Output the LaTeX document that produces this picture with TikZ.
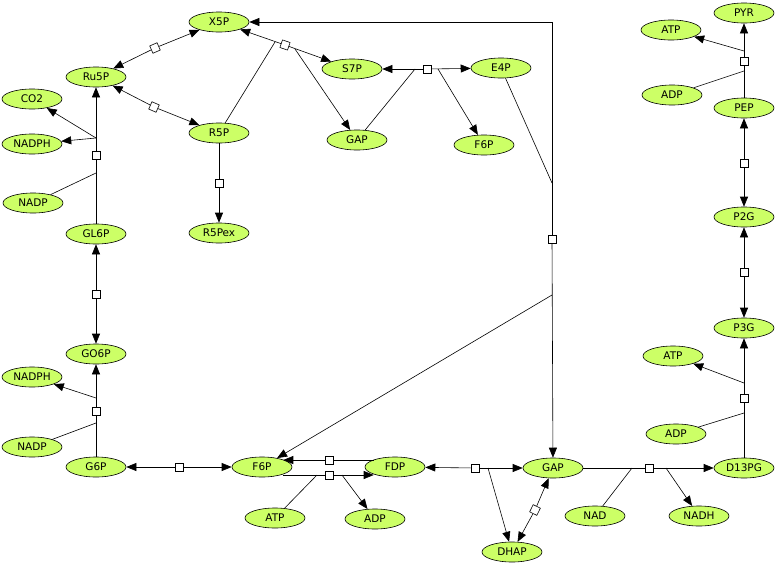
\documentclass[tikz,border=0pt]{standalone}
\usepackage{fontspec}
\setmainfont{DejaVu Sans}
\usetikzlibrary{arrows.meta,shapes.geometric}
\definecolor{metfill}{RGB}{204,255,102}

\begin{document}
\begin{tikzpicture}[
x=1pt,
y=-1pt,
line width=0.6pt,
met/.style={
    draw,
    ellipse,
    fill=metfill,
    minimum width=60pt,
    minimum height=20pt,
    inner sep=0pt,
    font=\fontsize{10.5}{12}\selectfont
},
rxn/.style={
    draw,
    fill=white,
    minimum size=8pt,
    inner sep=0pt
},
>={Triangle[length=10pt,width=8pt]}
]

\useasboundingbox (0,0) rectangle (777,565);

\node (X5P) [met] at (219,22) {X5P};
\node (Ru5P) [met] at (96,77) {Ru5P};
\node (CO2) [met] at (32,99) {CO2};
\node (NADPH1) [met] at (32,144) {NADPH};
\node (NADP1) [met] at (33,203) {NADP};
\node (R5P) [met] at (219,133) {R5P};
\node (R5Pex) [met] at (219,233) {R5Pex};
\node (GL6P) [met] at (96,234) {GL6P};
\node (GO6P) [met] at (96,354) {GO6P};
\node (NADPH2) [met] at (32,377) {NADPH};
\node (NADP2) [met] at (32,447) {NADP};
\node (G6P) [met] at (96,467) {G6P};
\node (F6P) [met] at (262,467) {F6P};
\node (FDP) [met] at (395,467) {FDP};
\node (ATP1) [met] at (275,518) {ATP};
\node (ADP1) [met] at (375,519) {ADP};
\node (GAP) [met] at (553,468) {GAP};
\node (DHAP) [met] at (512,552) {DHAP};
\node (NAD) [met] at (595,516) {NAD};
\node (NADH) [met] at (699,516) {NADH};
\node (D13PG) [met] at (744,468) {D13PG};
\node (ADP2) [met] at (676,434) {ADP};
\node (ATP2) [met] at (673,356) {ATP};
\node (P3G) [met] at (744,328) {P3G};
\node (P2G) [met] at (744,217) {P2G};
\node (PEP) [met] at (744,108) {PEP};
\node (ADP3) [met] at (672,95) {ADP};
\node (ATP3) [met] at (671,30) {ATP};
\node (PYR) [met] at (744,13) {PYR};
\node (S7P) [met] at (352,69) {S7P};
\node (GAP2) [met] at (357,140) {GAP};
\node (E4P) [met] at (501,68) {E4P};
\node (F6P2) [met] at (484,145) {F6P};

\node (r1) [rxn,rotate=24] at (155,48) {};
\node (r2) [rxn,rotate=-24] at (154,107) {};
\node (r3) [rxn] at (219,183) {};
\node (r4) [rxn] at (96,155) {};
\node (r5) [rxn] at (96,294) {};
\node (r6) [rxn] at (96,411) {};
\node (r7) [rxn] at (179,467) {};
\node (r8) [rxn] at (329,475) {};
\node (r9) [rxn] at (329,460) {};
\node (r10) [rxn] at (475,468) {};
\node (r11) [rxn,rotate=64] at (535,510) {};
\node (r12) [rxn] at (649,468) {};
\node (r13) [rxn] at (744,398) {};
\node (r14) [rxn] at (744,272) {};
\node (r15) [rxn] at (744,163) {};
\node (r16) [rxn] at (744,61) {};
\node (r17) [rxn,rotate=-19] at (285,45) {};
\node (r18) [rxn] at (427,69) {};
\node (r19) [rxn] at (552,239) {};

\coordinate (r4in) at (96,173);
\coordinate (r4out) at (96,138);
\coordinate (r6in) at (96,423);
\coordinate (r6out) at (96,398);
\coordinate (r8in) at (317,475);
\coordinate (r8out) at (342,475);
\coordinate (r10out) at (488,468);
\coordinate (r12in) at (632,468);
\coordinate (r12out) at (666,468);
\coordinate (r13in) at (744,413);
\coordinate (r13out) at (744,383);
\coordinate (r16in) at (744,71);
\coordinate (r16out) at (744,51);
\coordinate (r17in) at (275,42);
\coordinate (r17out) at (295,49);
\coordinate (r18in) at (415,69);
\coordinate (r18out) at (438,69);
\coordinate (c19) at (552,22);
\coordinate (r19in) at (552,183);
\coordinate (r19out) at (552,295);

\draw[->] (r1) -- (Ru5P);
\draw[->] (r1) -- (X5P);
\draw[->] (r2) -- (Ru5P);
\draw[->] (r2) -- (R5P);
\draw (R5P) -- (r3);
\draw[->] (r3) -- (R5Pex);

\draw (GL6P) -- (r4);
\draw[->] (r4) -- (Ru5P);
\draw (NADP1) -- (r4in);
\draw[->] (r4out) -- (CO2);
\draw[->] (r4out) -- (NADPH1);

\draw[->] (r5) -- (GL6P);
\draw[->] (r5) -- (GO6P);

\draw (G6P) -- (r6);
\draw[->] (r6) -- (GO6P);
\draw (NADP2) -- (r6in);
\draw[->] (r6out) -- (NADPH2);

\draw[->] (r7) -- (G6P);
\draw[->] (r7) -- (F6P);

\draw (r8 -| F6P.-19) -- (r8);
\draw[->] (r8) -- (r8 -| FDP.-161);
\draw (ATP1) -- (r8in);
\draw[->] (r8out) -- (ADP1);

\draw (r9 -| FDP.161) -- (r9);
\draw[->] (r9) -- (r9 -| F6P.19);

\draw[->] (r10) -- (FDP);
\draw[->] (r10) -- (GAP);
\draw[->] (r10out) -- (DHAP);

\draw[->] (r11) -- (DHAP);
\draw[->] (r11) -- (GAP);

\draw (GAP) -- (r12);
\draw[->] (r12) -- (D13PG);
\draw (NAD) -- (r12in);
\draw[->] (r12out) -- (NADH);

\draw (D13PG) -- (r13);
\draw[->] (r13) -- (P3G);
\draw (ADP2) -- (r13in);
\draw[->] (r13out) -- (ATP2);

\draw[->] (r14) -- (P3G);
\draw[->] (r14) -- (P2G);
\draw[->] (r15) -- (P2G);
\draw[->] (r15) -- (PEP);

\draw (PEP) -- (r16);
\draw[->] (r16) -- (PYR);
\draw (ADP3) -- (r16in);
\draw[->] (r16out) -- (ATP3);

\draw[->] (r17) -- (X5P);
\draw[->] (r17) -- (S7P);
\draw (R5P) -- (r17in);
\draw[->] (r17out) -- (GAP2);

\draw[->] (r18) -- (S7P);
\draw[->] (r18) -- (E4P);
\draw (GAP2) -- (r18in);
\draw[->] (r18out) -- (F6P2);

\draw[->] (r19) -- (c19) -- (X5P);
\draw[->] (r19) -- (GAP);
\draw (E4P) -- (r19in);
\draw[->] (r19out) -- (F6P);

\end{tikzpicture}
\end{document}
